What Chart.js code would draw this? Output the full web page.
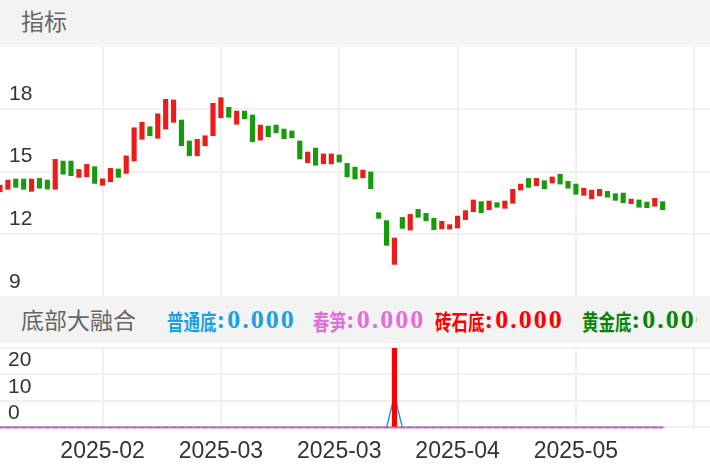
<!DOCTYPE html>
<html>
<head>
<meta charset="utf-8">
<script src="https://cdn.jsdelivr.net/npm/chart.js@4.4.1/dist/chart.umd.min.js"></script>
<style>
html, body { margin: 0; padding: 0; background: #fff; width: 710px; height: 472px; overflow: hidden; }
body { position: relative; font-family: "Liberation Sans", "Noto Sans CJK SC", sans-serif; }
.band { position: absolute; left: 0; width: 710px; background: #f3f3f3; color: #666; }
#head1 { top: 0; height: 45px; }
#head2 { top: 297px; height: 46px; }
.ttl { position: absolute; left: 21px; top: 0; line-height: 44px; font-size: 23px; font-family: "Noto Sans CJK SC", sans-serif; }
#head1 .ttl { line-height: 41px; }
#clip { position: absolute; left: 0; top: 0; width: 697px; height: 46px; overflow: hidden; }
.it { position: absolute; top: 0; line-height: 46px; white-space: nowrap; font-weight: bold; }
.cn { display: inline-block; font-family: "Noto Sans CJK SC", sans-serif; font-size: 16.5px; transform: scaleY(1.3); }
.num { font-family: "Liberation Serif", serif; font-size: 26px; letter-spacing: 2px; }
canvas { position: absolute; left: 0; }
#kline { top: 46px; }
#ind { top: 343px; }
</style>
</head>
<body>
<div class="band" id="head1"><div class="ttl">指标</div></div>
<canvas id="kline" width="710" height="251"></canvas>
<div class="band" id="head2">
  <div id="clip">
    <div class="ttl">底部大融合</div>
    <div class="it" style="left:167px;color:#1ba1e2"><span class="cn">普通底</span><span class="num">:0.000</span></div>
    <div class="it" style="left:313px;color:#e46ed9"><span class="cn">春笋</span><span class="num">:0.000</span></div>
    <div class="it" style="left:435px;color:#ff0000"><span class="cn">砖石底</span><span class="num">:0.000</span></div>
    <div class="it" style="left:582px;color:#078507"><span class="cn">黄金底</span><span class="num">:0.000</span></div>
  </div>
</div>
<canvas id="ind" width="710" height="132"></canvas>
<script>
// 交易日
var dates = [
  '2025-01-20','2025-01-21','2025-01-22','2025-01-23','2025-01-24','2025-01-27',
  '2025-02-05','2025-02-06','2025-02-07','2025-02-10','2025-02-11','2025-02-12','2025-02-13','2025-02-14',
  '2025-02-17','2025-02-18','2025-02-19','2025-02-20','2025-02-21','2025-02-24','2025-02-25','2025-02-26',
  '2025-02-27','2025-02-28',
  '2025-03-03','2025-03-04','2025-03-05','2025-03-06','2025-03-07','2025-03-10','2025-03-11','2025-03-12',
  '2025-03-13','2025-03-14','2025-03-17','2025-03-18','2025-03-19','2025-03-20','2025-03-21','2025-03-24',
  '2025-03-25','2025-03-26','2025-03-27','2025-03-28','2025-03-31',
  '2025-04-01','2025-04-02','2025-04-03','2025-04-07','2025-04-08','2025-04-09','2025-04-10','2025-04-11',
  '2025-04-14','2025-04-15','2025-04-16','2025-04-17','2025-04-18','2025-04-21','2025-04-22','2025-04-23',
  '2025-04-24','2025-04-25','2025-04-28','2025-04-29','2025-04-30',
  '2025-05-06','2025-05-07','2025-05-08','2025-05-09','2025-05-12','2025-05-13','2025-05-14','2025-05-15',
  '2025-05-16','2025-05-19','2025-05-20','2025-05-21','2025-05-22','2025-05-23','2025-05-26','2025-05-27',
  '2025-05-28','2025-05-29','2025-05-30'
];

// 开盘 / 收盘
var opens = [
  14.03,14.15,14.64,14.64,14.05,14.67,14.59,14.15,15.50,15.50,
  14.72,14.75,15.23,14.34,14.51,15.12,14.91,15.50,16.54,17.14,
  16.59,17.03,17.35,17.46,16.46,15.75,16.23,16.71,17.57,18.07,
  17.26,17.89,17.70,16.50,17.17,17.22,17.03,16.94,16.46,15.42,
  16.12,15.37,15.36,15.79,15.39,15.21,14.70,14.98,13.03,12.65,
  10.56,12.81,12.20,13.19,13.00,12.76,12.26,12.25,12.30,12.70,
  13.08,13.56,13.17,13.51,13.24,13.48,14.11,14.67,14.32,14.56,
  14.45,14.87,14.53,14.40,13.86,13.70,13.83,14.05,13.94,13.97,
  13.46,13.64,13.54,13.34,13.56
];
var closes = [
  14.35,14.59,14.24,14.15,14.64,14.20,14.16,15.58,14.87,14.80,
  15.10,15.34,14.43,14.65,15.15,14.72,15.75,17.09,17.35,16.71,
  17.76,18.45,18.42,16.23,15.75,16.54,16.71,18.26,18.53,17.59,
  17.89,17.52,16.42,17.22,16.66,16.85,16.57,16.61,15.60,15.93,
  15.30,15.84,15.84,15.45,14.74,14.64,15.07,14.18,12.76,11.47,
  11.82,12.28,12.95,12.81,12.65,12.22,12.62,12.46,12.87,13.13,
  13.64,13.03,13.59,13.29,13.59,14.15,14.40,14.24,14.67,14.18,
  14.74,14.40,14.20,13.91,14.20,14.11,14.15,13.77,13.62,13.51,
  13.68,13.29,13.27,13.72,13.17
];

// 底部大融合 指标
var putong = [
  0,0,0,0,0,0,0,0,0,0,0,0,0,0,0,
  0,0,0,0,0,0,0,0,0,0,0,0,0,0,0,
  0,0,0,0,0,0,0,0,0,0,0,0,0,0,0,
  0,0,0,0,0,12,0,0,0,0,0,0,0,0,0,
  0,0,0,0,0,0,0,0,0,0,0,0,0,0,0,
  0,0,0,0,0,0,0,0,0,0
];
var chunsun = [
  0,0,0,0,0,0,0,0,0,0,0,0,0,0,0,
  0,0,0,0,0,0,0,0,0,0,0,0,0,0,0,
  0,0,0,0,0,0,0,0,0,0,0,0,0,0,0,
  0,0,0,0,0,0,0,0,0,0,0,0,0,0,0,
  0,0,0,0,0,0,0,0,0,0,0,0,0,0,0,
  0,0,0,0,0,0,0,0,0,0
];
var zhuanshi = [
  0,0,0,0,0,0,0,0,0,0,0,0,0,0,0,
  0,0,0,0,0,0,0,0,0,0,0,0,0,0,0,
  0,0,0,0,0,0,0,0,0,0,0,0,0,0,0,
  0,0,0,0,0,50,0,0,0,0,0,0,0,0,0,
  0,0,0,0,0,0,0,0,0,0,0,0,0,0,0,
  0,0,0,0,0,0,0,0,0,0
];
var huangjin = [
  0,0,0,0,0,0,0,0,0,0,0,0,0,0,0,
  0,0,0,0,0,0,0,0,0,0,0,0,0,0,0,
  0,0,0,0,0,0,0,0,0,0,0,0,0,0,0,
  0,0,0,0,0,0,0,0,0,0,0,0,0,0,0,
  0,0,0,0,0,0,0,0,0,0,0,0,0,0,0,
  0,0,0,0,0,0,0,0,0,0
];

var emptySlots = ['', '', '', '', '', ''];
var priceMin = 9, priceMax = 21, priceStep = 3;

var slots = dates.concat(emptySlots);
var bodies = opens.map(function(o, i) { return [o, closes[i]]; });
var bodyColors = opens.map(function(o, i) { return closes[i] >= o ? '#ee1b1b' : '#179b0b'; });

var gridCol = '#f0f0f0';
function vGrid(ctx) { return ctx.index % 15 === 13 ? gridCol : 'rgba(0,0,0,0)'; }
// 坐标轴不占位置, 也不加留白
function flatY(s) { s.width = 0; s.paddingTop = 0; s.paddingBottom = 0; }
function flatX(s) { s.paddingLeft = 0; s.paddingRight = 0; }
var labelFont = { family: 'Liberation Sans', size: 21 };

// K线
new Chart(document.getElementById('kline'), {
  type: 'bar',
  data: {
    labels: slots,
    datasets: [{ data: bodies, backgroundColor: bodyColors, borderWidth: 0, barThickness: 4.5 }]
  },
  options: {
    responsive: false,
    animation: false,
    events: [],
    layout: { padding: 0 },
    plugins: { legend: { display: false }, tooltip: { enabled: false } },
    scales: {
      x: {
        offset: false,
        afterFit: flatX,
        grid: { offset: false, color: vGrid, lineWidth: 2, drawTicks: false },
        border: { display: false },
        ticks: { display: false, autoSkip: false }
      },
      y: {
        min: priceMin, max: priceMax,
        afterFit: flatY,
        grid: { color: gridCol, lineWidth: 2, drawTicks: false },
        border: { display: false },
        ticks: {
          stepSize: priceStep, mirror: true, padding: 9, labelOffset: -15, autoSkip: false,
          color: '#333', font: labelFont,
          callback: function(v) { return v === priceMax ? '' : v; }
        }
      }
    }
  }
});

// 指标
new Chart(document.getElementById('ind'), {
  type: 'bar',
  data: {
    labels: slots,
    datasets: [
      { type: 'bar', data: zhuanshi, backgroundColor: '#ff0000', borderWidth: 0, barThickness: 4.5, order: 0 },
      { type: 'line', data: chunsun, borderColor: '#e46ed9', borderWidth: 2, pointRadius: 0, clip: 4, order: 1 },
      { type: 'line', data: huangjin, borderColor: '#078507', borderWidth: 1.5, pointRadius: 0, order: 2 },
      { type: 'line', data: putong, borderColor: '#1ba1e2', borderWidth: 1.5, pointRadius: 0, order: 3 }
    ]
  },
  options: {
    responsive: false,
    animation: false,
    events: [],
    layout: { padding: { top: 5 } },
    plugins: { legend: { display: false }, tooltip: { enabled: false } },
    scales: {
      x: {
        offset: false,
        afterFit: flatX,
        grid: { offset: false, color: vGrid, lineWidth: 2, drawTicks: false },
        border: { display: false },
        ticks: {
          autoSkip: false, maxRotation: 0, padding: 10, color: '#333',
          font: { family: 'Liberation Sans', size: 23 },
          callback: function(v, i) { return (i % 15 === 13 && dates[i]) ? dates[i].slice(0, 7) : ''; }
        }
      },
      y: {
        min: 0, max: 30,
        afterFit: flatY,
        grid: { color: gridCol, lineWidth: 2, drawTicks: false },
        border: { display: false },
        ticks: {
          stepSize: 10, mirror: true, padding: 8, labelOffset: -14, autoSkip: false,
          color: '#333', font: labelFont,
          callback: function(v) { return v === 30 ? '' : v; }
        }
      }
    }
  }
});
</script>
</body>
</html>
